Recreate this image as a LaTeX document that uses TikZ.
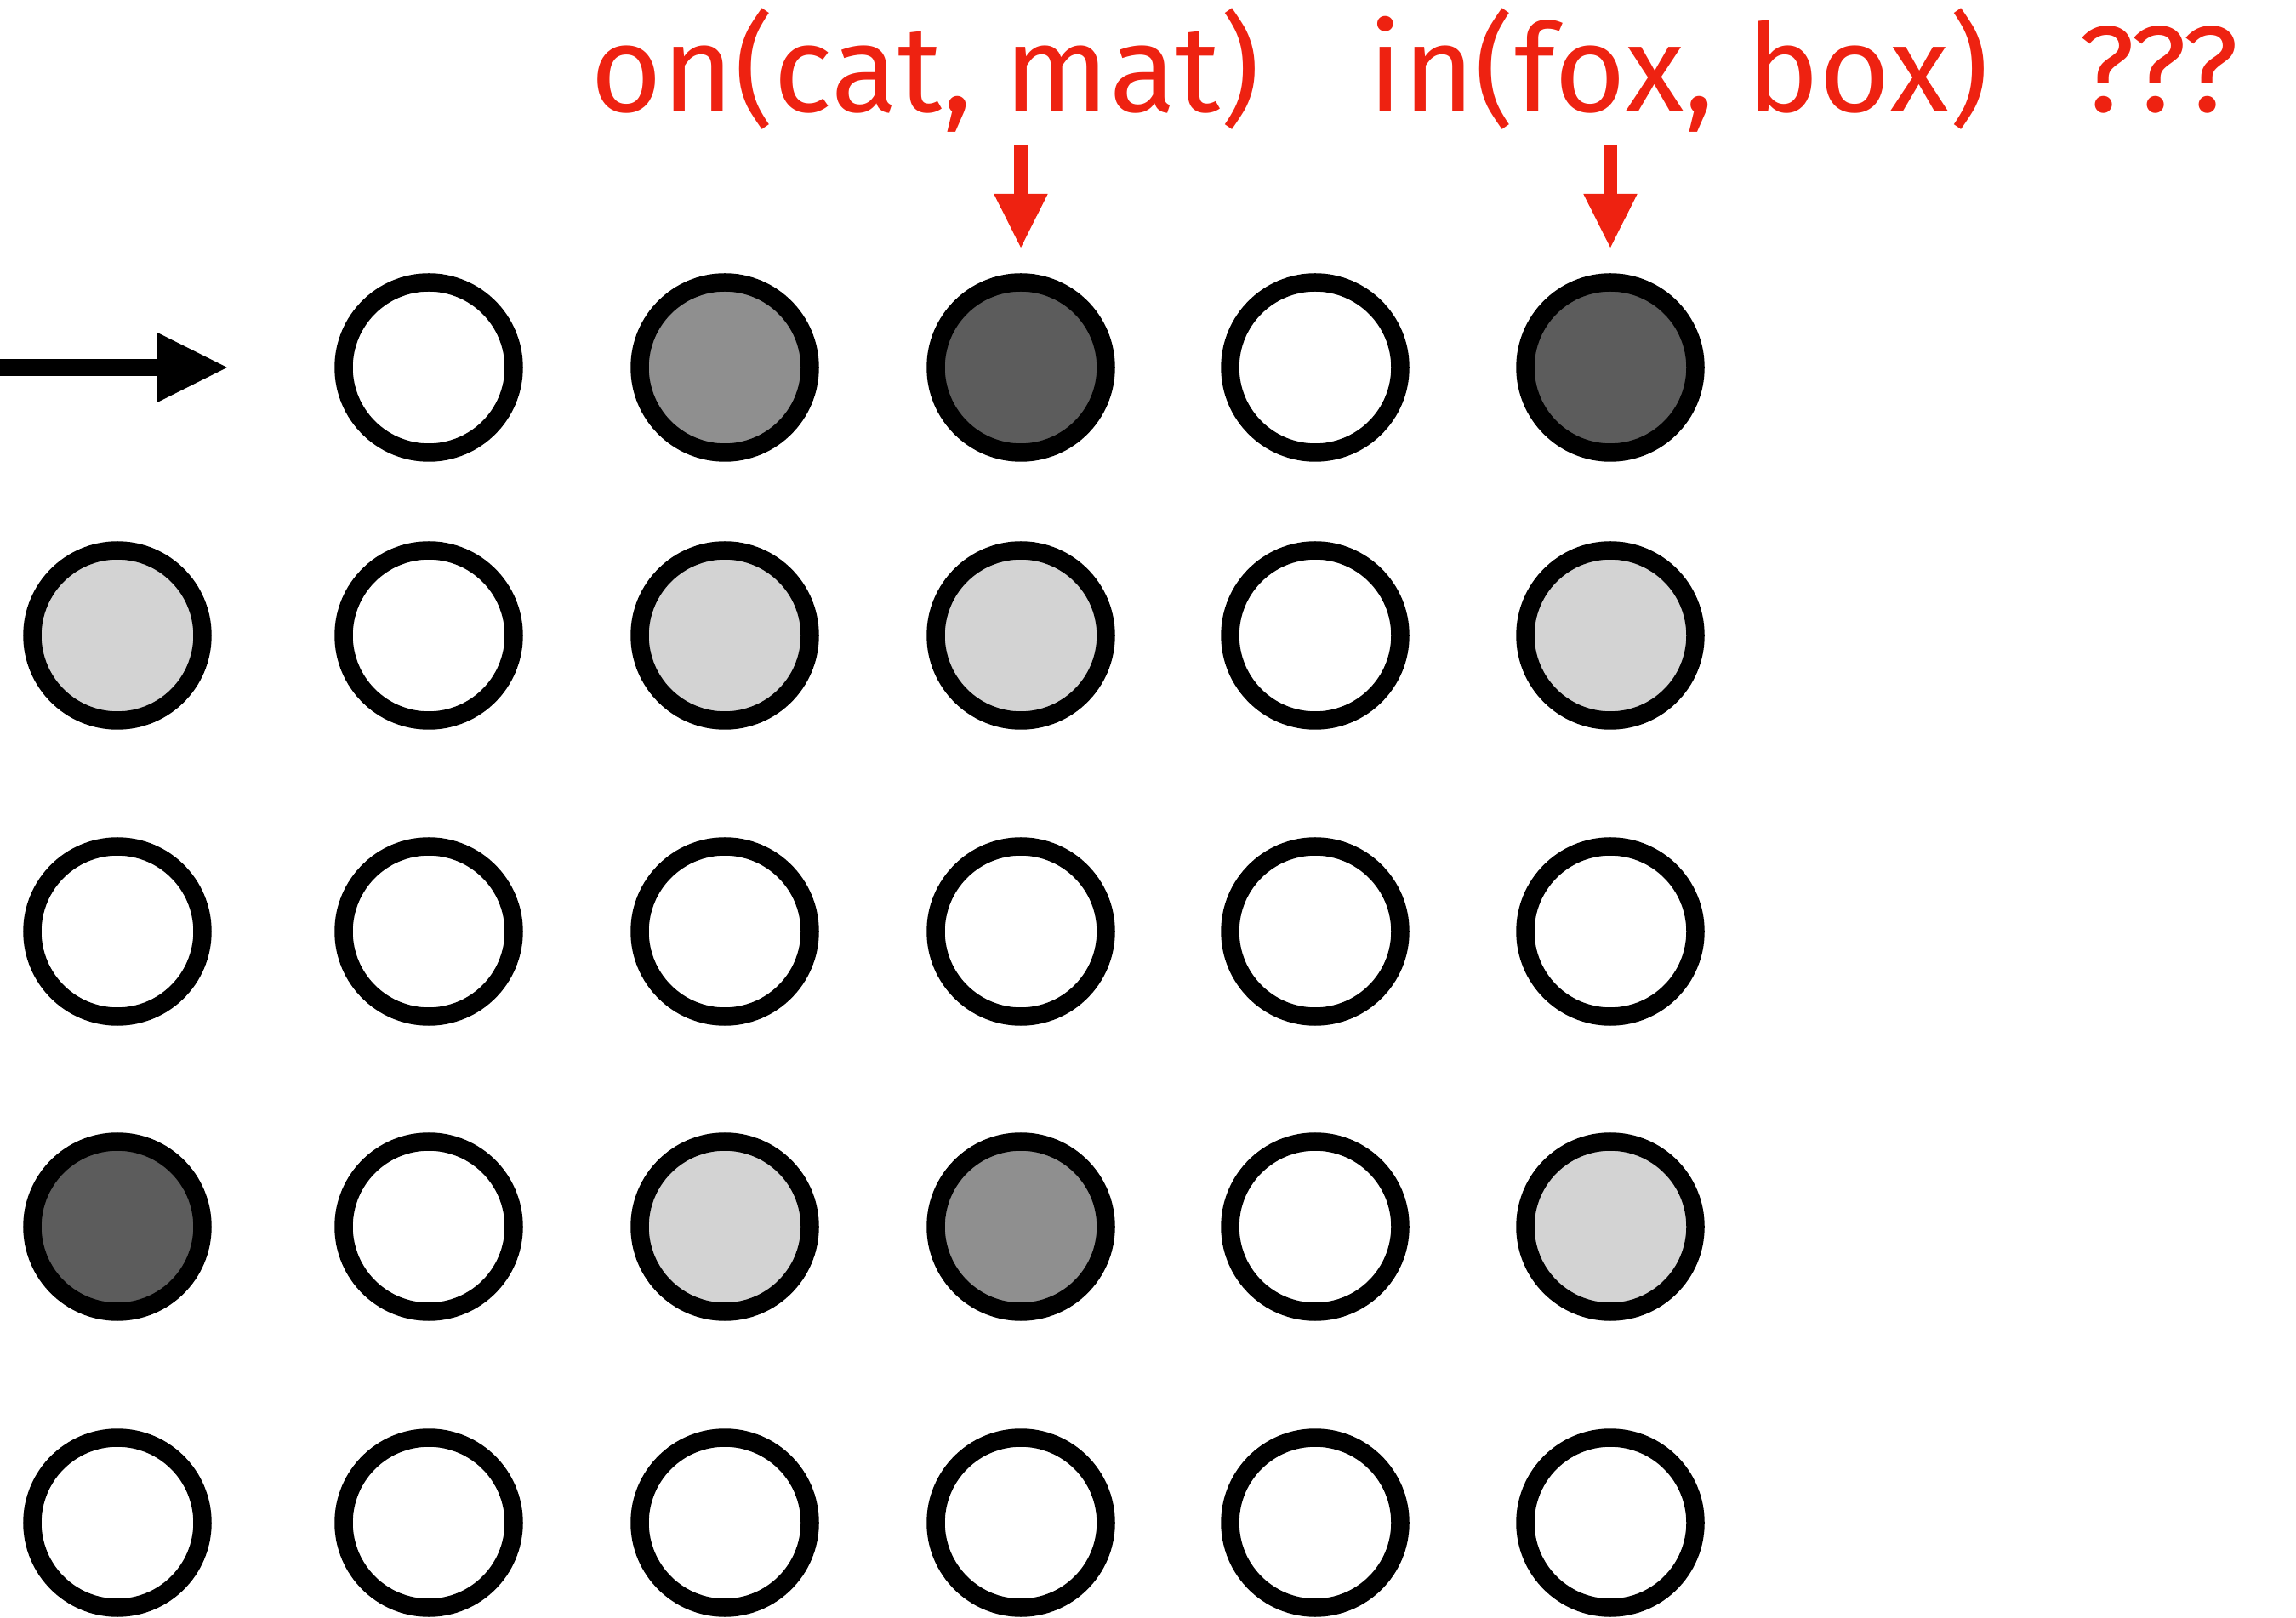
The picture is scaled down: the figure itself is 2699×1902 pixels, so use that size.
\documentclass[tikz,border=0pt]{standalone}
\usepackage{fontspec}
\setmainfont{Fira Sans}
\usetikzlibrary{arrows.meta}
\definecolor{labelred}{RGB}{238,34,17}
\definecolor{fillL}{RGB}{211,211,211}
\definecolor{fillM}{RGB}{143,143,143}
\definecolor{fillD}{RGB}{92,92,92}
\begin{document}
\begin{tikzpicture}[x=0.25pt,y=-0.25pt,
  unit/.style={circle,draw=black,line width=5.375pt,minimum size=50pt,inner sep=0pt,fill=white},
  lab/.style={text=labelred,font=\fontsize{36}{42}\selectfont,inner sep=0pt,anchor=base west},
  redarrow/.style={draw=labelred,line width=4pt,-{Triangle[length=15.75pt,width=15.85pt,line width=0pt]}},
  blackarrow/.style={draw=black,line width=5pt,-{Triangle[length=20.5pt,width=20.5pt,line width=0pt]}}
]
\useasboundingbox (0,0) rectangle (2699,1902);
% column x positions and row y positions
\def\cA{138}\def\cB{504}\def\cC{852}\def\cD{1200}\def\cE{1546}\def\cF{1893}
\def\rA{432}\def\rB{747}\def\rC{1095}\def\rD{1442}\def\rE{1790}
% row 0
\node[unit] (c01) at (\cB,\rA) {};
\node[unit,fill=fillM] (c02) at (\cC,\rA) {};
\node[unit,fill=fillD] (c03) at (\cD,\rA) {};
\node[unit] (c04) at (\cE,\rA) {};
\node[unit,fill=fillD] (c05) at (\cF,\rA) {};
% row 1
\node[unit,fill=fillL] (c10) at (\cA,\rB) {};
\node[unit] (c11) at (\cB,\rB) {};
\node[unit,fill=fillL] (c12) at (\cC,\rB) {};
\node[unit,fill=fillL] (c13) at (\cD,\rB) {};
\node[unit] (c14) at (\cE,\rB) {};
\node[unit,fill=fillL] (c15) at (\cF,\rB) {};
% row 2
\node[unit] (c20) at (\cA,\rC) {};
\node[unit] (c21) at (\cB,\rC) {};
\node[unit] (c22) at (\cC,\rC) {};
\node[unit] (c23) at (\cD,\rC) {};
\node[unit] (c24) at (\cE,\rC) {};
\node[unit] (c25) at (\cF,\rC) {};
% row 3
\node[unit,fill=fillD] (c30) at (\cA,\rD) {};
\node[unit] (c31) at (\cB,\rD) {};
\node[unit,fill=fillL] (c32) at (\cC,\rD) {};
\node[unit,fill=fillM] (c33) at (\cD,\rD) {};
\node[unit] (c34) at (\cE,\rD) {};
\node[unit,fill=fillL] (c35) at (\cF,\rD) {};
% row 4
\node[unit] (c40) at (\cA,\rE) {};
\node[unit] (c41) at (\cB,\rE) {};
\node[unit] (c42) at (\cC,\rE) {};
\node[unit] (c43) at (\cD,\rE) {};
\node[unit] (c44) at (\cE,\rE) {};
\node[unit] (c45) at (\cF,\rE) {};
% input arrow
\coordinate (inStart) at (0,\rA);
\coordinate (inTip) at (267,\rA);
\draw[blackarrow] (inStart) -- (inTip);
% labels
\node[lab] (l1) at (694,132) {on(cat, mat)};
\node[lab] (l2) at (1608,132) {in(fox, box)};
\node[lab] (l3) at (2443,132) {???};
% red arrows
\coordinate (a1top) at (\cD,170);
\coordinate (a1tip) at (\cD,291);
\coordinate (a2top) at (\cF,170);
\coordinate (a2tip) at (\cF,291);
\draw[redarrow] (a1top) -- (a1tip);
\draw[redarrow] (a2top) -- (a2tip);
\end{tikzpicture}
\end{document}
